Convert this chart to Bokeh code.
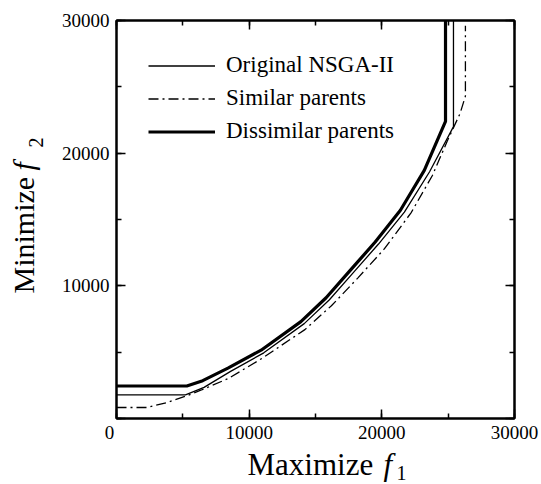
import math
from bokeh.plotting import figure
from bokeh.layouts import row, column
from bokeh.models import LinearAxis, SingleIntervalTicker, Legend, LegendItem
from bokeh.core.properties import value
from bokeh.embed import file_html
from bokeh.resources import INLINE

# Pareto fronts (f1 maximised, f2 minimised)
orig_f1 = [0, 5200, 6600, 8600, 11100, 14150, 16050, 17850, 19750, 21700, 23600, 25400, 25400]
orig_f2 = [1780, 1780, 2350, 3550, 4950, 7150, 8950, 11000, 13150, 15550, 18600, 22000, 30000]

sim_f1 = [0, 2300, 3800, 5350, 6400, 8400, 11000, 14200, 16200, 18200, 20200, 22200, 23800, 24950, 25900, 26300, 26300]
sim_f2 = [830, 830, 1200, 1730, 2150, 3000, 4550, 6700, 8500, 10600, 12800, 15500, 18300, 20950, 23000, 24300, 29600]

dis_f1 = [0, 5300, 6500, 8400, 10900, 13900, 15800, 17600, 19500, 21400, 23200, 24800, 24800]
dis_f2 = [2450, 2450, 2850, 3800, 5150, 7300, 9100, 11150, 13300, 15700, 18700, 22400, 30000]

series_names = ["Original NSGA-II", "Similar parents", "Dissimilar parents"]

SERIF = "Liberation Serif"
NBSP = "\u00a0"

# ---- main plot -------------------------------------------------------------
p = figure(width=495, height=446, x_range=(0, 30000), y_range=(0, 30000),
           min_border_left=70, min_border_right=27, min_border_top=20, min_border_bottom=28,
           toolbar_location=None, output_backend="svg")
p.grid.visible = False
p.outline_line_color = "black"
p.outline_line_width = 2
p.background_fill_color = "white"
p.border_fill_color = "white"

bottom_ax = p.below[0]
left_ax = p.left[0]
bottom_ax.ticker = SingleIntervalTicker(interval=10000, num_minor_ticks=2)
left_ax.ticker = SingleIntervalTicker(interval=10000, num_minor_ticks=2)

top_ax = LinearAxis(ticker=SingleIntervalTicker(interval=10000, num_minor_ticks=2))
right_ax = LinearAxis(ticker=SingleIntervalTicker(interval=10000, num_minor_ticks=2))
p.add_layout(top_ax, "above")
p.add_layout(right_ax, "right")

for ax in [bottom_ax, left_ax, top_ax, right_ax]:
    ax.axis_line_width = 2
    ax.axis_line_color = "black"
    ax.major_tick_in = 9
    ax.major_tick_out = 0
    ax.minor_tick_in = 5
    ax.minor_tick_out = 0
    ax.major_tick_line_width = 1.5
    ax.minor_tick_line_width = 1.5
    ax.major_tick_line_color = "black"
    ax.minor_tick_line_color = "black"
    ax.major_label_text_font = SERIF
    ax.major_label_text_font_size = "19px"
    ax.major_label_text_color = "black"

# the top and right axes carry ticks only
for ax in [top_ax, right_ax]:
    ax.major_label_text_font_size = "1px"
    ax.major_label_text_color = None
    ax.major_label_standoff = 0

bottom_ax.major_label_standoff = 3
left_ax.major_label_standoff = 7
# the corner "0" is shared by both axes and sits a little left of the origin
bottom_ax.major_label_overrides = {0: "0" + NBSP * 3}
left_ax.major_label_overrides = {0: ""}

r_orig = p.line(orig_f1, orig_f2, line_color="black", line_width=1.3)
r_sim = p.line(sim_f1, sim_f2, line_color="black", line_width=1.3, line_dash="10 4 2 4")
r_dis = p.line(dis_f1, dis_f2, line_color="black", line_width=3.2)

legend = Legend(items=[LegendItem(label=series_names[0], renderers=[r_orig]),
                       LegendItem(label=series_names[1], renderers=[r_sim]),
                       LegendItem(label=series_names[2], renderers=[r_dis])],
                location="top_left", margin=32, padding=0,
                glyph_width=67, glyph_height=25, label_height=25, spacing=7,
                label_standoff=11, label_text_font=SERIF, label_text_font_size="23px",
                label_text_color="black", border_line_color=None, background_fill_alpha=0)
p.add_layout(legend)


def strip(w, h, x_range, y_range, left=0, right=0):
    # a bare canvas whose data units are pixels of the strip, used for the axis titles
    s = figure(width=w, height=h, x_range=x_range, y_range=y_range,
               min_border_left=left, min_border_right=right,
               min_border_top=0, min_border_bottom=0,
               x_axis_type=None, y_axis_type=None, title=None,
               toolbar_location=None, output_backend="svg")
    s.grid.visible = False
    s.outline_line_color = None
    s.border_fill_color = "white"
    s.background_fill_color = "white"
    return s


def title_text(fig, x, y, txt, size, italic=False, angle=0.0):
    fig.text(x=[x], y=[y], text=[txt], angle=angle, text_font=value(SERIF),
             text_font_style="italic" if italic else "normal",
             text_font_size=size, text_baseline="middle", text_align="left",
             text_color="black")


# ---- x axis title: Maximize f1 ---------------------------------------------
# its frame lines up with the main plot's frame (70 px left border, 27 px right)
xs = strip(495, 38, (70, 468), (0, 38), left=70, right=27)
title_text(xs, 201, 20.5, "Maximize", "31px")
title_text(xs, 337, 20.5, "f", "31px", italic=True)
title_text(xs, 350, 11.5, "1", "20px")

# ---- y axis title: Minimize f2 ---------------------------------------------
ys = strip(46, 484, (0, 46), (0, 484))
title_text(ys, 23, 191, "Minimize", "30px", angle=math.pi / 2)
title_text(ys, 23, 314, "f", "30px", italic=True, angle=math.pi / 2)
title_text(ys, 35, 337, "2", "20px", angle=math.pi / 2)

layout = row(ys, column(p, xs))

open("out.html", "w").write(file_html(layout, INLINE))
